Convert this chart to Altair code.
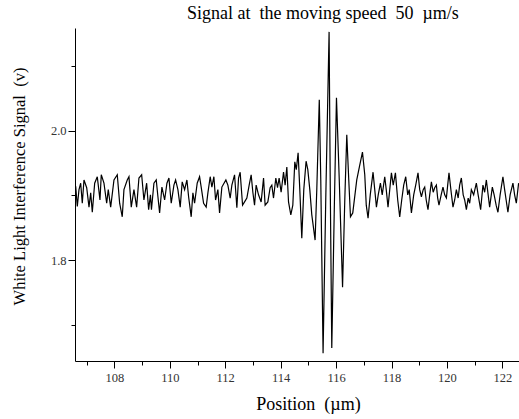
import altair as alt
import pandas as pd

position = [
    106.605, 106.663, 106.724, 106.785, 106.843, 106.904, 107.002, 107.085, 107.146, 107.204,
    107.290, 107.384, 107.481, 107.528, 107.625, 107.723, 107.780, 107.867, 107.986, 108.105,
    108.191, 108.285, 108.346, 108.465, 108.527, 108.610, 108.707, 108.804, 108.887, 108.985,
    109.067, 109.165, 109.237, 109.302, 109.338, 109.428, 109.511, 109.572, 109.633, 109.716,
    109.814, 109.897, 109.969, 110.052, 110.149, 110.210, 110.293, 110.376, 110.448, 110.535,
    110.618, 110.679, 110.773, 110.834, 110.895, 110.989, 111.075, 111.133, 111.220, 111.313,
    111.375, 111.458, 111.519, 111.591, 111.652, 111.735, 111.796, 111.879, 112.024, 112.096,
    112.179, 112.240, 112.337, 112.420, 112.481, 112.539, 112.626, 112.698, 112.781, 112.864,
    112.936, 112.997, 113.058, 113.116, 113.202, 113.296, 113.383, 113.440, 113.538, 113.621,
    113.682, 113.743, 113.826, 113.887, 113.945, 114.017, 114.104, 114.161, 114.223, 114.284,
    114.367, 114.439, 114.511, 114.565, 114.630, 114.691, 114.763, 114.835, 114.918, 114.980,
    115.052, 115.124, 115.243, 115.304, 115.394, 115.448, 115.531, 115.629, 115.748, 115.791,
    115.845, 115.935, 116.014, 116.115, 116.234, 116.314, 116.386, 116.458, 116.519, 116.602,
    116.746, 116.854, 116.952, 117.035, 117.089, 117.154, 117.233, 117.334, 117.395, 117.456,
    117.521, 117.600, 117.665, 117.756, 117.810, 117.874, 117.936, 117.997, 118.062, 118.141,
    118.224, 118.296, 118.368, 118.440, 118.513, 118.585, 118.639, 118.718, 118.801, 118.873,
    118.956, 119.017, 119.079, 119.144, 119.198, 119.252, 119.316, 119.378, 119.439, 119.504,
    119.558, 119.619, 119.666, 119.713, 119.792, 119.857, 119.919, 119.980, 120.027, 120.074,
    120.153, 120.218, 120.279, 120.340, 120.405, 120.459, 120.520, 120.586, 120.640, 120.701,
    120.766, 120.820, 120.881, 120.964, 121.061, 121.126, 121.216, 121.299, 121.361, 121.422,
    121.487, 121.541, 121.638, 121.703, 121.775, 121.840, 121.919, 122.020, 122.082, 122.136,
    122.200, 122.280, 122.381, 122.442, 122.503, 122.586,
]

signal = [
    1.914, 1.883, 1.909, 1.919, 1.888, 1.924, 1.912, 1.882, 1.904, 1.874,
    1.919, 1.929, 1.893, 1.932, 1.919, 1.888, 1.909, 1.882, 1.924, 1.932,
    1.888, 1.867, 1.909, 1.924, 1.929, 1.882, 1.909, 1.882, 1.927, 1.932,
    1.893, 1.919, 1.878, 1.901, 1.878, 1.919, 1.924, 1.898, 1.873, 1.913,
    1.893, 1.919, 1.927, 1.888, 1.916, 1.924, 1.909, 1.882, 1.921, 1.909,
    1.924, 1.898, 1.867, 1.904, 1.888, 1.919, 1.929, 1.913, 1.888, 1.882,
    1.904, 1.929, 1.913, 1.929, 1.893, 1.909, 1.873, 1.913, 1.924, 1.916,
    1.896, 1.916, 1.932, 1.881, 1.927, 1.936, 1.885, 1.890, 1.896, 1.916,
    1.932, 1.905, 1.885, 1.916, 1.901, 1.890, 1.927, 1.885, 1.890, 1.912,
    1.916, 1.896, 1.927, 1.912, 1.927, 1.905, 1.936, 1.916, 1.944, 1.890,
    1.870, 1.885, 1.952, 1.940, 1.966, 1.909, 1.834, 1.909, 1.953, 1.940,
    1.909, 1.870, 1.831, 1.909, 2.048, 1.924, 1.656, 1.898, 2.153, 1.909,
    1.664, 1.878, 2.051, 1.924, 1.758, 1.893, 1.994, 1.924, 1.867, 1.873,
    1.924, 1.947, 1.967, 1.932, 1.885, 1.865, 1.901, 1.936, 1.909, 1.882,
    1.901, 1.919, 1.901, 1.929, 1.909, 1.882, 1.909, 1.935, 1.916, 1.935,
    1.893, 1.867, 1.893, 1.916, 1.929, 1.901, 1.909, 1.873, 1.901, 1.916,
    1.935, 1.909, 1.898, 1.909, 1.913, 1.893, 1.878, 1.901, 1.921, 1.905,
    1.912, 1.916, 1.896, 1.885, 1.901, 1.913, 1.901, 1.896, 1.916, 1.935,
    1.905, 1.882, 1.893, 1.909, 1.896, 1.916, 1.927, 1.901, 1.893, 1.878,
    1.896, 1.888, 1.909, 1.901, 1.919, 1.901, 1.878, 1.916, 1.905, 1.924,
    1.901, 1.882, 1.913, 1.901, 1.885, 1.874, 1.901, 1.929, 1.909, 1.893,
    1.874, 1.901, 1.919, 1.901, 1.888, 1.919,
]

x_ticks = list(range(107, 123))
y_ticks = [1.7, 1.8, 1.9, 2.0, 2.1]

df = pd.DataFrame({"position": position, "signal": signal})

FONT = "Liberation Serif"
NB = "\u00a0"
MAJOR_Y = "abs(datum.value - 1.8) < 0.01 || abs(datum.value - 2.0) < 0.01"

chart = alt.Chart(df).mark_line(color="black", strokeWidth=1.2, clip=True).encode(
    x=alt.X(
        "position:Q",
        scale=alt.Scale(domain=[106.58, 122.6], nice=False, zero=False),
        axis=alt.Axis(
            values=x_ticks,
            labelExpr="datum.value % 2 == 0 ? datum.label : ''",
            format="d",
            tickSize={"condition": {"test": "datum.value % 2 == 0", "value": 7}, "value": 4},
            grid=False,
            title="Position" + NB + NB + "(µm)",
            titleFontSize=18,
            titleFont=FONT,
            titleFontWeight="normal",
            titleColor="black",
            titlePadding=12,
            titleX=233,
            labelFont=FONT,
            labelFontSize=12.5,
            labelColor="#333333",
            labelPadding=3,
            domainColor="black",
            tickColor="black",
            labelFlush=False,
            labelOverlap=False,
        ),
    ),
    y=alt.Y(
        "signal:Q",
        scale=alt.Scale(domain=[1.644, 2.159], nice=False, zero=False),
        axis=alt.Axis(
            values=y_ticks,
            labelExpr="(" + MAJOR_Y + ") ? datum.label : ''",
            format=".1f",
            tickSize={"condition": {"test": MAJOR_Y, "value": 7}, "value": 4},
            grid=False,
            title="White Light Interference Signal" + NB + NB + "(v)",
            titleFontSize=16.5,
            titleFont=FONT,
            titleFontWeight="normal",
            titleColor="black",
            titlePadding=23,
            titleY=158,
            labelFont=FONT,
            labelFontSize=12.5,
            labelColor="#333333",
            labelPadding=2,
            domainColor="black",
            tickColor="black",
            labelFlush=False,
            labelOverlap=False,
        ),
    ),
).properties(
    width=444,
    height=333,
    autosize="none",
    padding={"left": 75, "top": 28, "right": 0, "bottom": 58},
    title=alt.TitleParams(
        text="Signal at" + NB + NB + "the moving speed" + NB + NB + "50" + NB + NB + "µm/s",
        anchor="start",
        frame="group",
        dx=112,
        font=FONT,
        fontSize=18,
        fontWeight="normal",
        color="black",
        baseline="alphabetic",
        offset=-9,
    ),
).configure(background="white").configure_view(stroke=None)

chart.save("out.html", embed_options={"renderer": "svg", "actions": False})
